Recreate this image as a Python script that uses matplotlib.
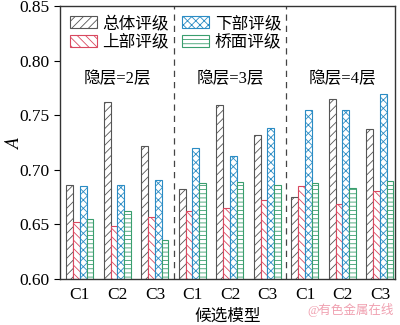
import numpy as np
import matplotlib
matplotlib.use("Agg")
import matplotlib.pyplot as plt

plt.rcParams['font.family'] = ['Liberation Serif', 'DejaVu Serif', 'Noto Sans CJK SC']
plt.rcParams['mathtext.fontset'] = 'stix'
plt.rcParams['hatch.linewidth'] = 0.6

models = ['C1', 'C2', 'C3', 'C1', 'C2', 'C3', 'C1', 'C2', 'C3']
groups = ['隐层=2层', '隐层=3层', '隐层=4层']
series = ['总体评级', '上部评级', '下部评级', '桥面评级']

overall = [0.686, 0.762, 0.722, 0.682, 0.759, 0.732, 0.675, 0.765, 0.737]
upper = [0.652, 0.649, 0.657, 0.662, 0.665, 0.672, 0.685, 0.669, 0.681]
lower = [0.685, 0.686, 0.691, 0.720, 0.713, 0.738, 0.755, 0.755, 0.769]
deck = [0.655, 0.662, 0.636, 0.688, 0.689, 0.686, 0.688, 0.683, 0.690]

colors = ['#555555', '#d9485f', '#2b8cc4', '#3a9e6e']
hatches = ['////', '\\\\\\\\', 'xxxx', '----']

fig = plt.figure(figsize=(4, 3.25), dpi=100)
ax = fig.add_axes([0.15, 0.1415, 0.8375, 0.84])

x = np.arange(len(models))
w = 0.18
for i, vals in enumerate([overall, upper, lower, deck]):
    ax.bar(x + (i - 1.5) * w, np.array(vals) - 0.6, w, bottom=0.6,
           facecolor='white', edgecolor=colors[i], hatch=hatches[i],
           linewidth=0.8, label=series[i])

for sep in [2.5, 5.5]:
    ax.axvline(sep, color='#444444', linestyle=(0, (5, 4)), linewidth=0.9)

for g, name in enumerate(groups):
    ax.text(3 * g + 1, 0.783, name, ha='center', va='center', fontsize=12)

ax.set_xlim(-0.53, 8.4)
ax.set_ylim(0.60, 0.85)
ax.set_yticks([0.60, 0.65, 0.70, 0.75, 0.80, 0.85])
ax.set_yticklabels(['0.60', '0.65', '0.70', '0.75', '0.80', '0.85'])
ax.set_xticks(x)
ax.set_xticklabels(models)
ax.tick_params(axis='y', direction='out', length=4, labelsize=12.5)
ax.tick_params(axis='x', length=0, labelsize=12.5, pad=6)
for s in ax.spines.values():
    s.set_color('#333333')
    s.set_linewidth(1.0)

ax.set_ylabel('$A$', fontsize=14)
ax.yaxis.set_label_coords(-0.11, 0.5)
ax.set_xlabel('候选模型', fontsize=12, labelpad=4)

ax.legend(ncol=2, loc='upper left', frameon=False, fontsize=12,
          handlelength=1.6, handleheight=0.7, columnspacing=0.8,
          handletextpad=0.35, labelspacing=0.15, borderaxespad=0.2,
          borderpad=0.4, bbox_to_anchor=(0.0, 1.0))

fig.text(0.985, 0.025, '@有色金属在线', ha='right', va='bottom',
         fontsize=9, color='#f0a0b0')

fig.savefig('out.png', dpi=100)
